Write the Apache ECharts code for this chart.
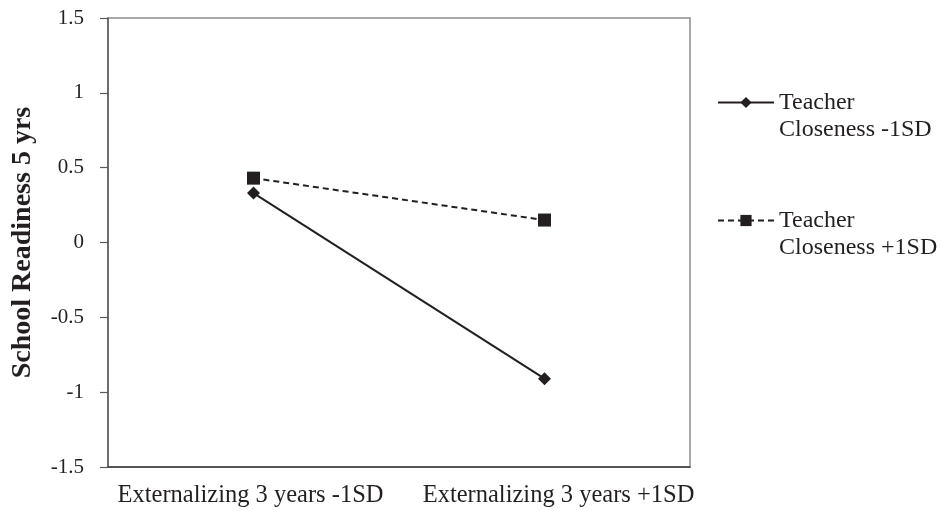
<!DOCTYPE html>
<html>
<head>
<meta charset="utf-8">
<script src="https://cdn.jsdelivr.net/npm/echarts@6/dist/echarts.min.js"></script>
<style>
html,body{margin:0;padding:0;background:#fff;}
#c{width:941px;height:511px;}
</style>
</head>
<body>
<div id="c"></div>
<script>
const categories = ['Externalizing 3 years -1SD', 'Externalizing 3 years +1SD'];
const seriesNames = ['Teacher\nCloseness -1SD', 'Teacher\nCloseness +1SD'];
const closenessLow = [0.33, -0.91];
const closenessHigh = [0.43, 0.15];
const yTickLabels = ['-1.5', '-1', '-0.5', '0', '0.5', '1', '1.5'];
const yTickValues = [-1.5, -1, -0.5, 0, 0.5, 1, 1.5];

const FONT = '"Liberation Serif", "Times New Roman", serif';
const chart = echarts.init(document.getElementById('c'), null, {renderer: 'canvas'});
chart.setOption({
  animation: false,
  backgroundColor: '#fff',
  grid: {
    left: 108, right: 251, top: 18, bottom: 44,
    show: true, borderColor: '#8c8c8c', borderWidth: 1.5, backgroundColor: 'transparent'
  },
  legend: {
    orient: 'vertical',
    left: 717, top: 62,
    padding: 0,
    itemWidth: 56, itemHeight: 14,
    itemGap: 37,
    data: seriesNames,
    formatter: function (name) { return '\n' + name; },
    textStyle: {
      fontFamily: FONT, fontSize: 24, color: '#231f20', lineHeight: 27
    }
  },
  xAxis: {
    type: 'category',
    data: categories,
    boundaryGap: true,
    axisLine: {onZero: false, lineStyle: {color: '#3a3a3a', width: 1.5}},
    axisTick: {show: false},
    axisLabel: {
      fontFamily: FONT, fontSize: 24.5, color: '#231f20', margin: 16, interval: 0,
      formatter: function (v, i) { return (i === 0 ? '{a|' : '{b|') + v + '}'; },
      rich: {
        a: {fontFamily: FONT, fontSize: 24.5, color: '#231f20', padding: [0, 6, 0, 0]},
        b: {fontFamily: FONT, fontSize: 24.5, color: '#231f20', padding: [0, 0, 0, 28]}
      }
    }
  },
  yAxis: {
    type: 'value',
    min: -1.5, max: 1.5, interval: 0.5,
    name: 'School Readiness 5 yrs',
    nameLocation: 'middle',
    nameGap: 71,
    nameTextStyle: {fontFamily: FONT, fontSize: 28, fontWeight: 'bold', color: '#231f20'},
    axisLine: {show: true, lineStyle: {color: '#5a5a5a', width: 1.5}},
    axisTick: {show: true, length: 8, lineStyle: {color: '#5a5a5a', width: 1.2}},
    splitLine: {show: false},
    axisLabel: {
      fontFamily: FONT, fontSize: 21, color: '#231f20', margin: 24,
      formatter: function (v) {
        const i = yTickValues.findIndex(t => Math.abs(t - v) < 1e-9);
        return i >= 0 ? yTickLabels[i] : '';
      }
    }
  },
  series: [
    {
      name: seriesNames[0],
      type: 'line',
      data: closenessLow,
      symbol: 'diamond',
      symbolSize: 13,
      itemStyle: {color: '#231f20'},
      lineStyle: {color: '#231f20', width: 2, type: 'solid'}
    },
    {
      name: seriesNames[1],
      type: 'line',
      data: closenessHigh,
      symbol: 'rect',
      symbolSize: 13,
      itemStyle: {color: '#231f20'},
      lineStyle: {color: '#231f20', width: 2, type: [6, 4]}
    }
  ]
});
</script>
</body>
</html>
